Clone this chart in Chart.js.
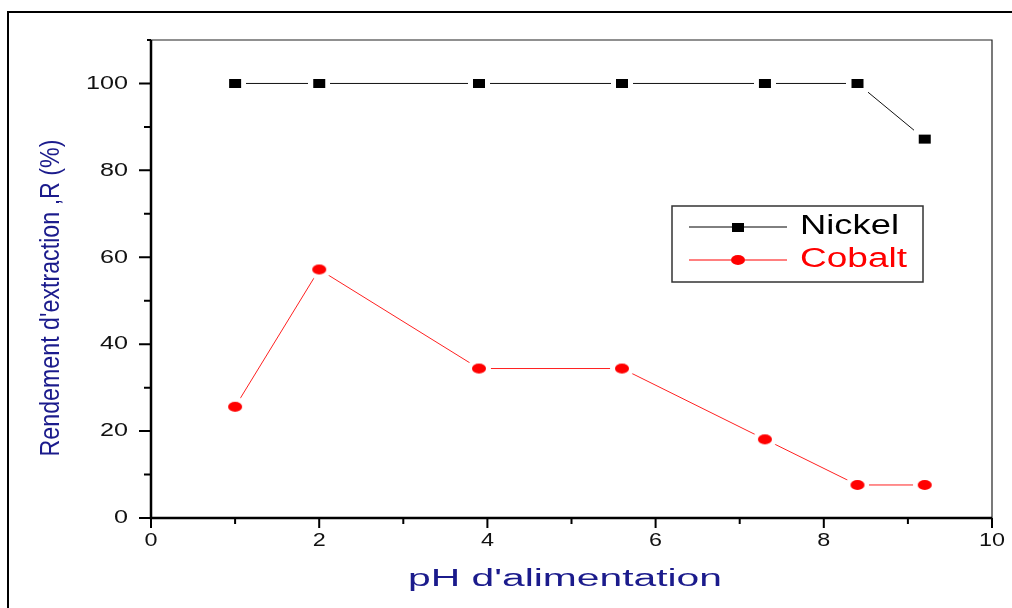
<!DOCTYPE html>
<html>
<head>
<meta charset="utf-8">
<script src="https://cdn.jsdelivr.net/npm/chart.js@4"></script>
<style>
  body { margin: 0; background: #fff; }
  #wrap { width: 1012px; height: 608px; }
</style>
</head>
<body>
<div id="wrap"><canvas id="chart"></canvas></div>
<script>
const phValues = [1.0, 2.0, 3.9, 5.6, 7.3, 8.4, 9.2];
const nickelValues = [100, 100, 100, 100, 100, 100, 87.2];
const cobaltValues = [25.6, 57.2, 34.4, 34.4, 18.1, 7.6, 7.6];
const xMajorTicks = [0, 2, 4, 6, 8, 10];
const xMinorTicks = [1, 3, 5, 7, 9];
const yMajorTicks = [0, 20, 40, 60, 80, 100];
const yMinorTicks = [10, 30, 50, 70, 90];

const titleColor = '#1b1b8c';

// Origin style marker: filled shape with a white halo so the line stops short of it
const makeMarker = (shape, color, w, h, halo) => {
    const c = document.createElement('canvas');
    c.width = w + halo * 2;
    c.height = h + halo * 2;
    const ctx = c.getContext('2d');
    const fillShape = (pad, fill) => {
        ctx.fillStyle = fill;
        if (shape === 'rect') {
            ctx.fillRect(halo - pad, halo - pad, w + pad * 2, h + pad * 2);
        } else {
            ctx.beginPath();
            ctx.ellipse(c.width / 2, c.height / 2, w / 2 + pad, h / 2 + pad, 0, 0, Math.PI * 2);
            ctx.fill();
        }
    };
    fillShape(halo, '#ffffff');
    fillShape(0, color);
    return c;
};

const squareMarker = makeMarker('rect', '#000000', 12, 9, 5);
const circleMarker = makeMarker('ellipse', '#ff0000', 14, 10, 5);
const squarePlain = makeMarker('rect', '#000000', 12, 9, 0);
const circlePlain = makeMarker('ellipse', '#ff0000', 14, 10, 0);

// draws text squeezed/stretched to a given width
const fitText = (ctx, text, x, y, size, width, align) => {
    ctx.save();
    ctx.font = size + 'px "Liberation Sans", Arial, sans-serif';
    const natural = ctx.measureText(text).width;
    const sx = width / natural;
    ctx.translate(x, y);
    ctx.scale(sx, 1);
    ctx.textAlign = align;
    ctx.textBaseline = 'middle';
    ctx.fillText(text, 0, 0);
    ctx.restore();
};

const framePlugin = {
    id: 'originFrame',
    afterDraw(chart) {
        const ctx = chart.ctx;
        const { left, right, top, bottom } = chart.chartArea;
        const xs = chart.scales.x;
        const ys = chart.scales.y;

        ctx.save();
        // outer figure border
        ctx.strokeStyle = '#000';
        ctx.lineWidth = 2;
        ctx.beginPath();
        ctx.moveTo(8, 608);
        ctx.lineTo(8, 12);
        ctx.lineTo(1012, 12);
        ctx.stroke();

        // top and right of the plot box
        ctx.lineWidth = 1.2;
        ctx.strokeStyle = '#222';
        ctx.beginPath();
        ctx.moveTo(left, top);
        ctx.lineTo(right, top);
        ctx.lineTo(right, bottom);
        ctx.stroke();

        // left and bottom axes
        ctx.lineWidth = 2.5;
        ctx.strokeStyle = '#000';
        ctx.beginPath();
        ctx.moveTo(left, top);
        ctx.lineTo(left, bottom);
        ctx.lineTo(right, bottom);
        ctx.stroke();

        // ticks
        ctx.lineWidth = 2;
        ctx.beginPath();
        yMajorTicks.forEach(v => {
            const py = ys.getPixelForValue(v);
            ctx.moveTo(left - 12, py);
            ctx.lineTo(left, py);
        });
        yMinorTicks.forEach(v => {
            const py = ys.getPixelForValue(v);
            ctx.moveTo(left - 7, py);
            ctx.lineTo(left, py);
        });
        ctx.moveTo(left - 4, top);
        ctx.lineTo(left, top);
        xMajorTicks.forEach(v => {
            const px = xs.getPixelForValue(v);
            ctx.moveTo(px, bottom);
            ctx.lineTo(px, bottom + 10);
        });
        xMinorTicks.forEach(v => {
            const px = xs.getPixelForValue(v);
            ctx.moveTo(px, bottom);
            ctx.lineTo(px, bottom + 6);
        });
        ctx.stroke();

        // tick labels
        ctx.fillStyle = '#111';
        yMajorTicks.forEach(v => {
            const label = String(v);
            fitText(ctx, label, 128, ys.getPixelForValue(v), 19, label.length * 14, 'right');
        });
        xMajorTicks.forEach(v => {
            const label = String(v);
            fitText(ctx, label, xs.getPixelForValue(v), 541, 19, label.length * 13, 'center');
        });

        // axis titles
        ctx.fillStyle = titleColor;
        fitText(ctx, "pH d'alimentation", 565, 580, 23, 314, 'center');
        ctx.save();
        ctx.translate(51, 298);
        ctx.rotate(-Math.PI / 2);
        ctx.font = '22px "Liberation Sans", Arial, sans-serif';
        const yTitle = "Rendement d'extraction ,R (%)";
        const natural = ctx.measureText(yTitle).width;
        ctx.scale(317 / natural, 1.25);
        ctx.textAlign = 'center';
        ctx.textBaseline = 'middle';
        ctx.fillText(yTitle, 0, 0);
        ctx.restore();

        // legend box
        ctx.lineWidth = 1.5;
        ctx.strokeStyle = '#333';
        ctx.strokeRect(672, 206, 251, 76);
        const rows = [
            { label: 'Nickel', color: '#000', y: 227, marker: squarePlain, w: 99 },
            { label: 'Cobalt', color: '#ff0000', y: 260, marker: circlePlain, w: 107 }
        ];
        rows.forEach(r => {
            ctx.lineWidth = 1;
            ctx.strokeStyle = r.color;
            ctx.beginPath();
            ctx.moveTo(689, r.y);
            ctx.lineTo(787, r.y);
            ctx.stroke();
            ctx.drawImage(r.marker, 738 - r.marker.width / 2, r.y - r.marker.height / 2);
            ctx.fillStyle = r.color;
            fitText(ctx, r.label, 800, r.y, 27, r.w, 'left');
        });
        ctx.restore();
    }
};

const toPoints = (xs, ys) => xs.map((x, i) => ({ x: x, y: ys[i] }));

new Chart(document.getElementById('chart').getContext('2d'), {
    type: 'scatter',
    data: {
        datasets: [
            {
                label: 'Nickel',
                data: toPoints(phValues, nickelValues),
                showLine: true,
                borderColor: '#111',
                borderWidth: 1,
                pointStyle: squareMarker,
                pointRadius: 6
            },
            {
                label: 'Cobalt',
                data: toPoints(phValues, cobaltValues),
                showLine: true,
                borderColor: '#ff2020',
                borderWidth: 1,
                pointStyle: circleMarker,
                pointRadius: 7
            }
        ]
    },
    options: {
        responsive: true,
        maintainAspectRatio: false,
        animation: false,
        layout: {
            padding: { left: 151, right: 20, top: 40, bottom: 90 }
        },
        plugins: {
            legend: { display: false },
            tooltip: { enabled: false }
        },
        scales: {
            x: { type: 'linear', min: 0, max: 10, display: false },
            y: { type: 'linear', min: 0, max: 110, display: false }
        }
    },
    plugins: [framePlugin]
});
</script>
</body>
</html>
